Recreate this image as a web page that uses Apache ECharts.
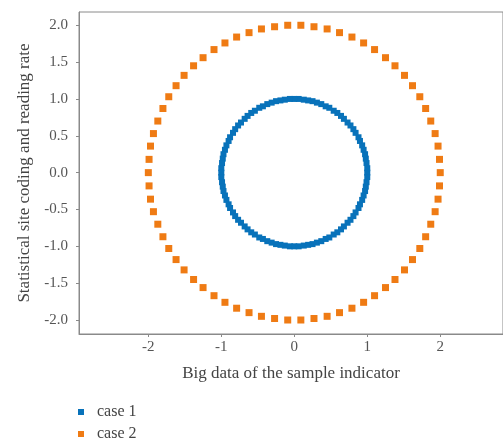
<!DOCTYPE html>
<html>
<head>
<meta charset="utf-8">
<script src="https://cdn.jsdelivr.net/npm/echarts@6/dist/echarts.min.js"></script>
<style>
  html, body { margin: 0; padding: 0; background: #fff; }
  #chart { width: 503px; height: 446px; }
</style>
</head>
<body>
<div id="chart"></div>
<script>
// points, going round counter-clockwise from (r, 0)
var case1 = [
  [1.00, 0.00], [1.00, 0.06], [0.99, 0.13], [0.98, 0.19], [0.97, 0.25],
  [0.95, 0.31], [0.93, 0.37], [0.90, 0.43], [0.88, 0.48], [0.84, 0.54],
  [0.81, 0.59], [0.77, 0.64], [0.73, 0.68], [0.68, 0.73], [0.64, 0.77],
  [0.59, 0.81], [0.54, 0.84], [0.48, 0.88], [0.43, 0.90], [0.37, 0.93],
  [0.31, 0.95], [0.25, 0.97], [0.19, 0.98], [0.13, 0.99], [0.06, 1.00],
  [0.00, 1.00], [-0.06, 1.00], [-0.13, 0.99], [-0.19, 0.98], [-0.25, 0.97],
  [-0.31, 0.95], [-0.37, 0.93], [-0.43, 0.90], [-0.48, 0.88], [-0.54, 0.84],
  [-0.59, 0.81], [-0.64, 0.77], [-0.68, 0.73], [-0.73, 0.68], [-0.77, 0.64],
  [-0.81, 0.59], [-0.84, 0.54], [-0.88, 0.48], [-0.90, 0.43], [-0.93, 0.37],
  [-0.95, 0.31], [-0.97, 0.25], [-0.98, 0.19], [-0.99, 0.13], [-1.00, 0.06],
  [-1.00, 0.00], [-1.00, -0.06], [-0.99, -0.13], [-0.98, -0.19], [-0.97, -0.25],
  [-0.95, -0.31], [-0.93, -0.37], [-0.90, -0.43], [-0.88, -0.48], [-0.84, -0.54],
  [-0.81, -0.59], [-0.77, -0.64], [-0.73, -0.68], [-0.68, -0.73], [-0.64, -0.77],
  [-0.59, -0.81], [-0.54, -0.84], [-0.48, -0.88], [-0.43, -0.90], [-0.37, -0.93],
  [-0.31, -0.95], [-0.25, -0.97], [-0.19, -0.98], [-0.13, -0.99], [-0.06, -1.00],
  [0.00, -1.00], [0.06, -1.00], [0.13, -0.99], [0.19, -0.98], [0.25, -0.97],
  [0.31, -0.95], [0.37, -0.93], [0.43, -0.90], [0.48, -0.88], [0.54, -0.84],
  [0.59, -0.81], [0.64, -0.77], [0.68, -0.73], [0.73, -0.68], [0.77, -0.64],
  [0.81, -0.59], [0.84, -0.54], [0.88, -0.48], [0.90, -0.43], [0.93, -0.37],
  [0.95, -0.31], [0.97, -0.25], [0.98, -0.19], [0.99, -0.13], [1.00, -0.06]
];

var case2 = [
  [2.00, 0.00], [1.99, 0.18], [1.97, 0.36], [1.93, 0.53], [1.87, 0.70],
  [1.80, 0.87], [1.72, 1.03], [1.62, 1.18], [1.51, 1.32], [1.38, 1.45],
  [1.25, 1.56], [1.10, 1.67], [0.95, 1.76], [0.79, 1.84], [0.62, 1.90],
  [0.45, 1.95], [0.27, 1.98], [0.09, 2.00],
  [-0.09, 2.00], [-0.27, 1.98], [-0.45, 1.95], [-0.62, 1.90], [-0.79, 1.84],
  [-0.95, 1.76], [-1.10, 1.67], [-1.25, 1.56], [-1.38, 1.45], [-1.51, 1.32],
  [-1.62, 1.18], [-1.72, 1.03], [-1.80, 0.87], [-1.87, 0.70], [-1.93, 0.53],
  [-1.97, 0.36], [-1.99, 0.18],
  [-2.00, 0.00], [-1.99, -0.18], [-1.97, -0.36], [-1.93, -0.53], [-1.87, -0.70],
  [-1.80, -0.87], [-1.72, -1.03], [-1.62, -1.18], [-1.51, -1.32], [-1.38, -1.45],
  [-1.25, -1.56], [-1.10, -1.67], [-0.95, -1.76], [-0.79, -1.84], [-0.62, -1.90],
  [-0.45, -1.95], [-0.27, -1.98], [-0.09, -2.00],
  [0.09, -2.00], [0.27, -1.98], [0.45, -1.95], [0.62, -1.90], [0.79, -1.84],
  [0.95, -1.76], [1.10, -1.67], [1.25, -1.56], [1.38, -1.45], [1.51, -1.32],
  [1.62, -1.18], [1.72, -1.03], [1.80, -0.87], [1.87, -0.70], [1.93, -0.53],
  [1.97, -0.36], [1.99, -0.18]
];

var xTicks = [-2, -1, 0, 1, 2];
var yTicks = [-2, -1.5, -1, -0.5, 0, 0.5, 1, 1.5, 2];
var seriesNames = ['case 1', 'case 2'];

var font = 'Liberation Serif, DejaVu Serif, serif';
var myChart = echarts.init(document.getElementById('chart'));

option = {
    animation: false,
    color: ['#0872ba', '#ef7b14'],
    textStyle: { fontFamily: font },
    grid: {
        left: 79,
        right: 0,
        top: 12,
        bottom: 112,
        show: true,
        borderColor: '#8a8a8a',
        borderWidth: 1
    },
    legend: {
        data: seriesNames,
        orient: 'vertical',
        left: 78,
        top: 404,
        padding: 0,
        itemWidth: 6,
        itemHeight: 6,
        itemGap: 6,
        icon: 'rect',
        textStyle: { fontFamily: font, fontSize: 16, color: '#444', padding: [0, 0, 0, 8] }
    },
    xAxis: {
        type: 'value',
        min: -2.95,
        max: 2.86,
        name: 'Big data of the sample indicator',
        nameLocation: 'middle',
        nameGap: 31,
        nameTextStyle: { fontFamily: font, fontSize: 17, color: '#444' },
        splitLine: { show: false },
        axisLine: { onZero: false, lineStyle: { color: '#8a8a8a' } },
        axisTick: { customValues: xTicks, length: 3, lineStyle: { color: '#8a8a8a' } },
        axisLabel: {
            customValues: xTicks,
            fontFamily: font,
            fontSize: 15,
            color: '#555',
            margin: 6
        }
    },
    yAxis: {
        type: 'value',
        min: -2.19,
        max: 2.18,
        name: 'Statistical site coding and reading rate',
        nameLocation: 'middle',
        nameGap: 45,
        nameTextStyle: { fontFamily: font, fontSize: 17, color: '#444' },
        splitLine: { show: false },
        axisLine: { onZero: false, lineStyle: { color: '#8a8a8a' } },
        axisTick: { customValues: yTicks, length: 3, lineStyle: { color: '#8a8a8a' } },
        axisLabel: {
            customValues: yTicks,
            fontFamily: font,
            fontSize: 15,
            color: '#555',
            margin: 11,
            formatter: function (v) { return v.toFixed(1); }
        }
    },
    series: [
        {
            name: seriesNames[0],
            type: 'scatter',
            symbol: 'rect',
            symbolSize: 6,
            itemStyle: { opacity: 1 },
            data: case1
        },
        {
            name: seriesNames[1],
            type: 'scatter',
            symbol: 'rect',
            symbolSize: 7,
            itemStyle: { opacity: 1 },
            data: case2
        }
    ]
};

myChart.setOption(option);
</script>
</body>
</html>
